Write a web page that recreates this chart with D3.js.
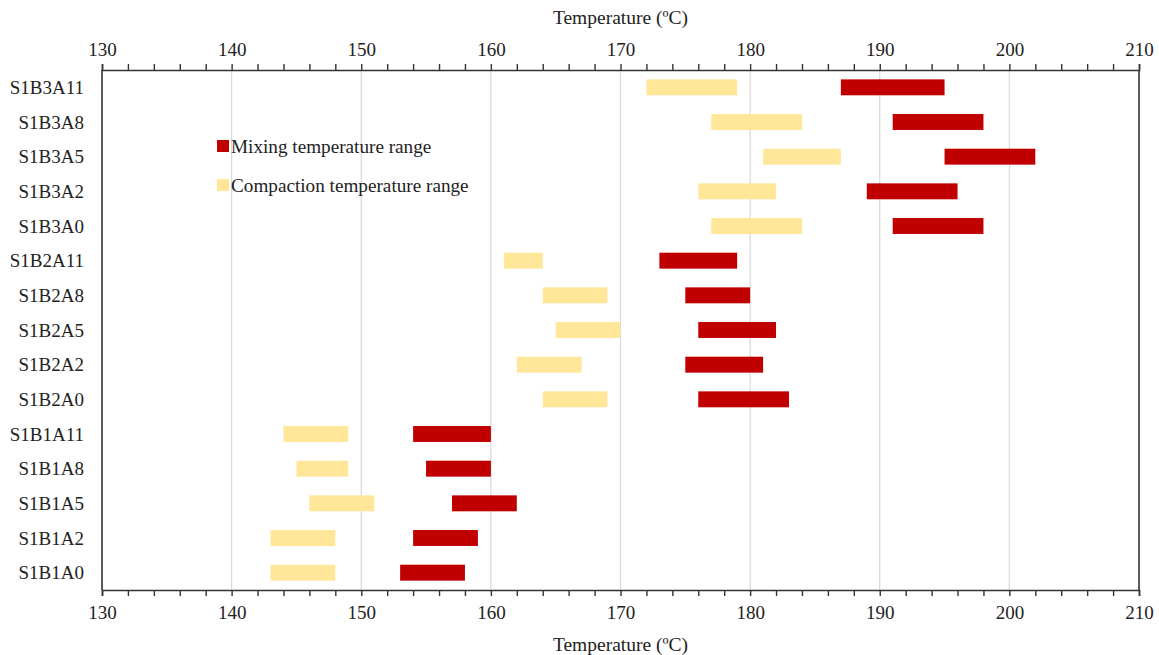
<!DOCTYPE html>
<html>
<head>
<meta charset="utf-8">
<script src="https://cdn.jsdelivr.net/npm/d3@7"></script>
<style>
  body { margin: 0; background: #fff; }
  text { font-family: "Liberation Serif", "Times New Roman", serif; fill: #222; }
</style>
</head>
<body>
<div id="chart"></div>
<script>
var w = 1159, h = 655;
var margin = { top: 70, right: 20, bottom: 65, left: 102 };

// samples, top to bottom
var samples = ["S1B3A11", "S1B3A8", "S1B3A5", "S1B3A2", "S1B3A0",
               "S1B2A11", "S1B2A8", "S1B2A5", "S1B2A2", "S1B2A0",
               "S1B1A11", "S1B1A8", "S1B1A5", "S1B1A2", "S1B1A0"];

// compaction range (low, high)
var compLow  = [172, 177, 181, 176, 177, 161, 164, 165, 162, 164, 144, 145, 146, 143, 143];
var compHigh = [179, 184, 187, 182, 184, 164, 169, 170, 167, 169, 149, 149, 151, 148, 148];

// mixing range (low, high)
var mixLow  = [187, 191, 195, 189, 191, 173, 175, 176, 175, 176, 154, 155, 157, 154, 153];
var mixHigh = [195, 198, 202, 196, 198, 179, 180, 182, 181, 183, 160, 160, 162, 159, 158];

var xTicks = [130, 140, 150, 160, 170, 180, 190, 200, 210];
var red = "#C00000", yellow = "#FFE699";

var svg = d3.select("#chart").append("svg")
    .attr("width", w)
    .attr("height", h);

var x = d3.scaleLinear()
    .domain([130, 210])
    .range([margin.left, w - margin.right]);

var y = d3.scaleBand()
    .domain(samples)
    .range([margin.top, h - margin.bottom])
    .paddingInner(0.54)
    .paddingOuter(0.27);

// grid lines
svg.append("g")
    .selectAll("line")
    .data(xTicks.slice(1, -1))
    .enter()
    .append("line")
    .attr("x1", (d) => x(d))
    .attr("x2", (d) => x(d))
    .attr("y1", margin.top)
    .attr("y2", h - margin.bottom)
    .style("stroke", "#d9d9d9")
    .style("stroke-width", 1.2);

// bars
var rows = samples.map((s, i) => ({ name: s, c0: compLow[i], c1: compHigh[i], m0: mixLow[i], m1: mixHigh[i] }));

svg.append("g").selectAll("rect")
    .data(rows)
    .enter()
    .append("rect")
    .attr("x", (d) => x(d.c0))
    .attr("y", (d) => y(d.name))
    .attr("width", (d) => x(d.c1) - x(d.c0))
    .attr("height", y.bandwidth())
    .style("fill", yellow);

svg.append("g").selectAll("rect")
    .data(rows)
    .enter()
    .append("rect")
    .attr("x", (d) => x(d.m0))
    .attr("y", (d) => y(d.name))
    .attr("width", (d) => x(d.m1) - x(d.m0))
    .attr("height", y.bandwidth())
    .style("fill", red);

// axes
var minor = d3.range(130, 211, 2);

function drawAxis(axis, ty) {
    var g = svg.append("g")
        .attr("transform", `translate(0, ${ty})`)
        .call(axis.tickValues(minor).tickSize(6).tickFormat((d) => xTicks.includes(d) ? d : ""));
    g.select(".domain").attr("stroke", "#333").attr("stroke-width", 1.6);
    g.selectAll(".tick line").attr("stroke", "#333").attr("stroke-width", 1.4);
    g.selectAll(".tick text")
        .style("font-size", "19px")
        .style("font-family", "Liberation Serif, serif")
        .attr("fill", "#222");
    return g;
}

drawAxis(d3.axisTop(x), margin.top).selectAll(".tick text").attr("dy", "-0.25em");
drawAxis(d3.axisBottom(x), h - margin.bottom).selectAll(".tick text").attr("dy", "1.05em");

// side borders
svg.append("line")
    .attr("x1", x(130)).attr("x2", x(130))
    .attr("y1", margin.top).attr("y2", h - margin.bottom)
    .style("stroke", "#333").style("stroke-width", 1.6);
svg.append("line")
    .attr("x1", x(210)).attr("x2", x(210))
    .attr("y1", margin.top).attr("y2", h - margin.bottom)
    .style("stroke", "#333").style("stroke-width", 1.6);

// row labels
svg.append("g").selectAll("text")
    .data(samples)
    .enter()
    .append("text")
    .attr("x", 84)
    .attr("y", (d) => y(d) + y.bandwidth() / 2)
    .attr("dy", "0.35em")
    .attr("text-anchor", "end")
    .style("font-size", "19px")
    .text((d) => d);

// axis titles
svg.append("text")
    .attr("x", x(170))
    .attr("y", 24)
    .attr("text-anchor", "middle")
    .style("font-size", "19.5px")
    .text("Temperature (ºC)");

svg.append("text")
    .attr("x", x(170))
    .attr("y", 651)
    .attr("text-anchor", "middle")
    .style("font-size", "19.5px")
    .text("Temperature (ºC)");

// legend
var legend = [{ name: "Mixing temperature range", color: red, y: 146 },
              { name: "Compaction temperature range", color: yellow, y: 185 }];

var lg = svg.append("g").selectAll("g")
    .data(legend)
    .enter()
    .append("g");

lg.append("rect")
    .attr("x", 217)
    .attr("y", (d) => d.y - 6)
    .attr("width", 12)
    .attr("height", 12)
    .style("fill", (d) => d.color);

lg.append("text")
    .attr("x", 231)
    .attr("y", (d) => d.y)
    .attr("dy", "0.35em")
    .style("font-size", "19.2px")
    .text((d) => d.name);
</script>
</body>
</html>
